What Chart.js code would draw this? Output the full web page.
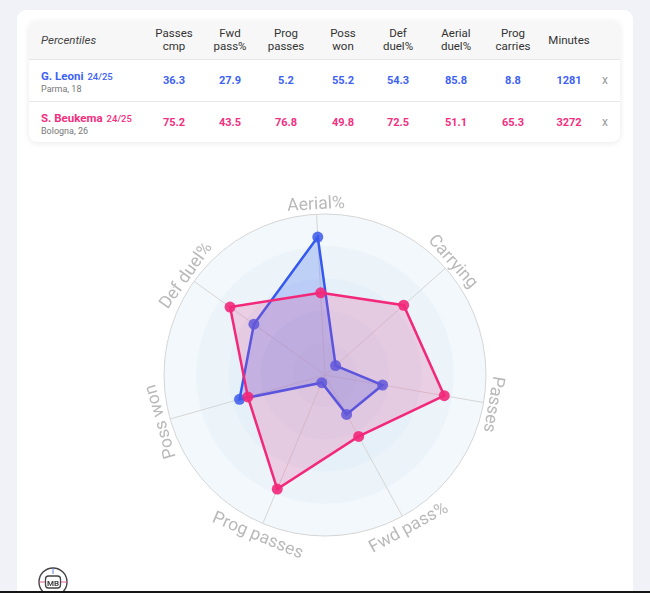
<!DOCTYPE html>
<html lang="en">
<head>
<meta charset="UTF-8">
<script src="https://cdn.jsdelivr.net/npm/chart.js"></script>
<title>Percentiles</title>
<style>
  html, body { margin: 0; padding: 0; }
  body { width: 650px; height: 593px; background: #f0f2f7; position: relative; overflow: hidden; font-family: Roboto, "Noto Sans", sans-serif; }
  .painel { position: absolute; left: 17px; top: 10px; width: 616px; height: 600px; background: #fff; border-radius: 9px; }
  .cartao { position: absolute; left: 29px; top: 21px; width: 591px; height: 121px; background: #fff; border-radius: 8px;
            box-shadow: 0 1px 6px rgba(0,0,0,0.09); overflow: hidden; }
  .cabecalho { position: absolute; left: 0; top: 0; width: 100%; height: 38px; background: #f7f7f7; border-bottom: 1px solid #e6e6e6; }
  .divisor { position: absolute; left: 0; top: 80px; width: 100%; height: 1px; background: #e8e8e8; }
  .cel { position: absolute; transform: translate(-50%, -50%); text-align: center; white-space: nowrap; }
  .titulo-col { font-size: 11.5px; line-height: 13px; color: #333; }
  .valor { font-size: 11px; font-weight: 700; }
  .nome { position: absolute; left: 12px; transform: translateY(-50%); white-space: nowrap; }
  .nome b { font-size: 11.5px; font-weight: 700; }
  .nome small { font-size: 9.5px; font-weight: 500; }
  .nome div { font-size: 9px; color: #777; line-height: 11px; }
  .fechar { font-size: 12px; color: #9a9a9a; }
  .grafico { position: absolute; left: 0; top: 150px; width: 650px; height: 440px; }
  .logo { position: absolute; left: 37px; top: 566px; }
  .barra { position: absolute; left: 0; top: 591px; width: 650px; height: 2px; background: #151515; }
</style>
</head>
<body>
<div class="painel"></div>
<div class="cartao" id="cartao">
  <div class="cabecalho"></div>
  <div class="divisor"></div>
</div>
<div class="grafico"><canvas id="radar"></canvas></div>
<svg class="logo" width="32" height="30" viewBox="0 0 32 30">
  <circle cx="16" cy="16" r="14" fill="#fff" stroke="#444" stroke-width="1.4"/>
  <line x1="16" y1="2" x2="16" y2="8" stroke="#6a7de0" stroke-width="1"/>
  <line x1="2" y1="16" x2="8" y2="16" stroke="#e0609a" stroke-width="1"/>
  <line x1="24" y1="16" x2="30" y2="16" stroke="#e0609a" stroke-width="1"/>
  <rect x="8.5" y="10" width="15" height="12" rx="3" fill="#fff" stroke="#444" stroke-width="1.3"/>
  <text x="16" y="19.5" text-anchor="middle" font-family="Roboto" font-weight="700" font-size="8" fill="#444">MB</text>
</svg>
<div class="barra"></div>

<script>
  // dados
  const eixos = ['Aerial%', 'Carrying', 'Passes', 'Fwd pass%', 'Prog passes', 'Poss won', 'Def duel%'];
  const leoni = [85.8, 8.8, 36.3, 27.9, 5.2, 55.2, 54.3];
  const beukema = [51.1, 65.3, 75.2, 43.5, 76.8, 49.8, 72.5];

  const colunas = [['Passes', 'cmp'], ['Fwd', 'pass%'], ['Prog', 'passes'], ['Poss', 'won'], ['Def', 'duel%'], ['Aerial', 'duel%'], ['Prog', 'carries'], ['Minutes']];
  const linhaLeoni = ['36.3', '27.9', '5.2', '55.2', '54.3', '85.8', '8.8', '1281'];
  const linhaBeukema = ['75.2', '43.5', '76.8', '49.8', '72.5', '51.1', '65.3', '3272'];
  const jogadores = [
    { nome: 'G. Leoni', temporada: '24/25', clube: 'Parma, 18', linha: linhaLeoni },
    { nome: 'S. Beukema', temporada: '24/25', clube: 'Bologna, 26', linha: linhaBeukema }
  ];

  const AZUL = '#3d62f3';
  const ROSA = '#f22f7f';
  const coresJogador = [AZUL, ROSA];

  // tabela (coordenadas relativas ao cartao)
  const cartao = document.getElementById('cartao');
  const xColunas = [145, 201, 257, 314, 369, 427, 484, 540];
  const yLinhas = [59, 101];

  function celula(html, classe, x, y) {
    const d = document.createElement('div');
    d.className = classe;
    d.style.left = x + 'px';
    d.style.top = y + 'px';
    d.innerHTML = html;
    cartao.appendChild(d);
    return d;
  }

  const perc = celula('Percentiles', 'titulo-col', 12, 19);
  perc.style.position = 'absolute';
  perc.style.transform = 'translateY(-50%)';
  perc.style.fontStyle = 'italic';
  perc.style.color = '#444';

  colunas.forEach(function (c, i) {
    celula(c.join('<br>'), 'cel titulo-col', xColunas[i], 19);
  });

  jogadores.forEach(function (j, r) {
    const cor = coresJogador[r];
    celula('<b style="color:' + cor + '">' + j.nome + '</b> <small style="color:' + cor + '">' + j.temporada + '</small><div>' + j.clube + '</div>', 'nome', 12, yLinhas[r]);
    j.linha.forEach(function (v, i) {
      const c = celula(v, 'cel valor', xColunas[i], yLinhas[r]);
      c.style.color = cor;
    });
    celula('x', 'cel fechar', 576, yLinhas[r]);
  });

  // aneis de fundo + borda externa
  const aneis = {
    id: 'aneis',
    beforeDraw(chart) {
      const s = chart.scales.r;
      const ctx = chart.ctx;
      const tons = ['#f3f8fc', '#ecf4fa', '#e6f0f8', '#e0ecf6', '#dbe8f4'];
      const niveis = [100, 80, 60, 40, 20];
      ctx.save();
      niveis.forEach(function (v, i) {
        ctx.beginPath();
        ctx.arc(s.xCenter, s.yCenter, s.getDistanceFromCenterForValue(v), 0, Math.PI * 2);
        ctx.fillStyle = tons[i];
        ctx.fill();
      });
      ctx.beginPath();
      ctx.arc(s.xCenter, s.yCenter, s.getDistanceFromCenterForValue(100), 0, Math.PI * 2);
      ctx.strokeStyle = '#d5d5d5';
      ctx.lineWidth = 1;
      ctx.stroke();
      ctx.restore();
    }
  };

  // rotulos girados em volta do circulo
  const rotulos = {
    id: 'rotulos',
    afterDraw(chart) {
      const s = chart.scales.r;
      const ctx = chart.ctx;
      const raio = s.getDistanceFromCenterForValue(100);
      ctx.save();
      ctx.font = '17.5px Roboto';
      ctx.fillStyle = '#b9b9b9';
      ctx.textAlign = 'center';
      ctx.textBaseline = 'alphabetic';
      eixos.forEach(function (txt, i) {
        const ang = s.getIndexAngle(i);
        let graus = ang * 180 / Math.PI;
        graus = ((graus % 360) + 360) % 360;
        const virado = graus > 120 && graus < 240;
        const dist = virado ? raio + 18 : raio + 5;
        const p = s.getPointPosition(i, dist);
        ctx.save();
        ctx.translate(p.x, p.y);
        ctx.rotate(virado ? ang - Math.PI : ang);
        ctx.fillText(txt, 0, 0);
        ctx.restore();
      });
      ctx.restore();
    }
  };

  const config = {
    type: 'radar',
    data: {
      labels: eixos,
      datasets: [{
        label: 'G. Leoni',
        data: leoni,
        order: 1,
        fill: true,
        backgroundColor: 'rgba(70, 110, 240, 0.27)',
        borderColor: '#3558f0',
        borderWidth: 2.5,
        pointRadius: 5.5,
        pointBorderWidth: 0,
        pointBackgroundColor: 'rgba(60, 90, 235, 0.85)',
        pointBorderColor: 'rgba(0,0,0,0)'
      }, {
        label: 'S. Beukema',
        data: beukema,
        order: 0,
        fill: true,
        backgroundColor: 'rgba(228, 75, 150, 0.22)',
        borderColor: '#f2287a',
        borderWidth: 2.5,
        pointRadius: 5.5,
        pointBorderWidth: 0,
        pointBackgroundColor: 'rgba(242, 40, 122, 0.9)',
        pointBorderColor: 'rgba(0,0,0,0)'
      }]
    },
    options: {
      responsive: true,
      maintainAspectRatio: false,
      animation: false,
      layout: { padding: { left: 164, right: 164, top: 64, bottom: 54 } },
      elements: { line: { tension: 0 } },
      scales: {
        r: {
          min: 0,
          max: 100,
          startAngle: -3,
          ticks: { display: false, stepSize: 20 },
          grid: { display: false },
          angleLines: { display: true, color: '#d6d6d6', lineWidth: 1 },
          pointLabels: { display: false }
        }
      },
      plugins: {
        legend: { display: false },
        tooltip: { enabled: false }
      }
    },
    plugins: [aneis, rotulos]
  };

  var radar = new Chart(document.getElementById('radar'), config);
</script>
</body>
</html>
